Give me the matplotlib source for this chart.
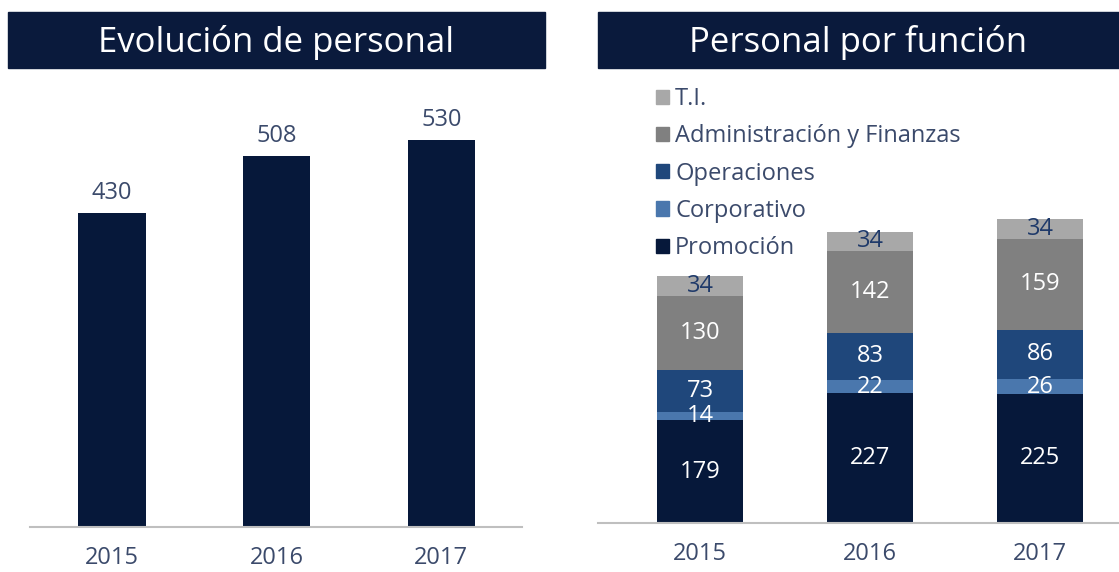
import matplotlib.pyplot as plt
from matplotlib.patches import Rectangle, Patch

# data
years = ['2015', '2016', '2017']
total_staff = [430, 508, 530]

functions = ['Promoción', 'Corporativo', 'Operaciones', 'Administración y Finanzas', 'T.I.']
promocion = [179, 227, 225]
corporativo = [14, 22, 26]
operaciones = [73, 83, 86]
admin_fin = [130, 142, 159]
ti = [34, 34, 34]

NAVY = '#06183a'
colors = [NAVY, '#4a77ad', '#1f477b', '#808080', '#a8a8a8']
label_colors = ['white', 'white', 'white', 'white', '#1f3a6a']
TICK_COLOR = '#3b4a6b'

plt.rcParams['font.family'] = ['Open Sans', 'DejaVu Sans']

W, H = 1119, 572
fig = plt.figure(figsize=(W / 100, H / 100), dpi=100)


def px_axes(x0, x1, y_top, y_base):
    return fig.add_axes([x0 / W, 1 - y_base / H, (x1 - x0) / W, (y_base - y_top) / H])


def banner(x0, x1, title):
    fig.patches.append(Rectangle((x0 / W, 1 - 68 / H), (x1 - x0) / W, 56 / H,
                                 transform=fig.transFigure, color='#0a1a3c', zorder=0))
    fig.text((x0 + x1) / 2 / W, 1 - 42 / H, title, color='white', fontsize=25,
             ha='center', va='center')


def style_axes(ax):
    for s in ['top', 'left', 'right']:
        ax.spines[s].set_visible(False)
    ax.spines['bottom'].set_color('#bfbfbf')
    ax.spines['bottom'].set_linewidth(1.5)
    ax.set_yticks([])
    ax.tick_params(axis='x', length=0, pad=14, labelsize=17, labelcolor=TICK_COLOR)


banner(8, 545, 'Evolución de personal')
banner(598, 1119, 'Personal por función')

# left: total staff
ax1 = px_axes(30, 522, 70, 527)
x = [0, 1, 2]
ax1.bar(x, total_staff, width=0.41, color=NAVY)
for xi, v in zip(x, total_staff):
    ax1.annotate(str(v), (xi, v), xytext=(0, 6), textcoords='offset points',
                 ha='center', va='bottom', fontsize=17, color=TICK_COLOR)
ax1.set_xlim(-0.498, 2.49)
ax1.set_ylim(0, 626)
ax1.set_xticks(x, years)
style_axes(ax1)

# right: stacked by function
ax2 = px_axes(598, 1119, 70, 523)
series = [promocion, corporativo, operaciones, admin_fin, ti]
bottom = [0, 0, 0]
handles = []
for name, vals, col, lc in zip(functions, series, colors, label_colors):
    ax2.bar(x, vals, width=0.51, bottom=bottom, color=col, edgecolor='none')
    for xi, b, v in zip(x, bottom, vals):
        ax2.text(xi, b + v / 2, str(v), ha='center', va='center', fontsize=17, color=lc)
    bottom = [b + v for b, v in zip(bottom, vals)]
    handles.append(Patch(color=col, label=name))
ax2.set_xlim(-0.6, 2.465)
ax2.set_ylim(0, 790)
ax2.set_xticks(x, years)
style_axes(ax2)

fig.legend(handles=handles[::-1], loc='upper left',
           bbox_to_anchor=(635 / W, 1 - 66 / H), frameon=False,
           handlelength=0.55, handleheight=0.55, handletextpad=0.25,
           labelspacing=0.56, fontsize=17, labelcolor=TICK_COLOR)

fig.savefig('out.png', dpi=100)
